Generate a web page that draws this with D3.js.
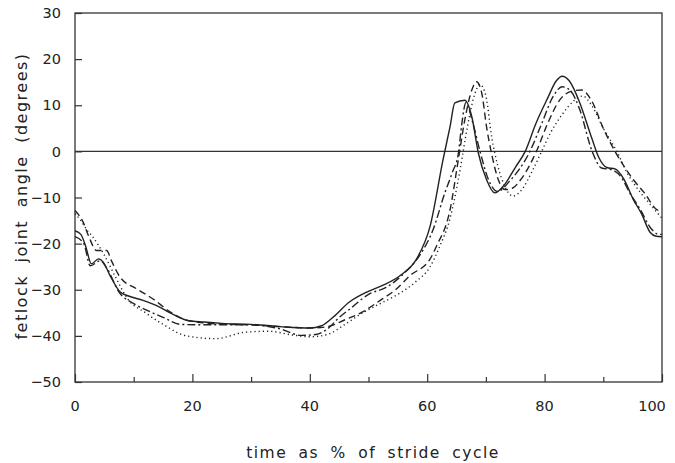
<!DOCTYPE html>
<html>
<head>
<meta charset="utf-8">
<script src="https://cdn.jsdelivr.net/npm/d3@7"></script>
<style>
  html, body { margin: 0; padding: 0; background: #fff; }
  svg text { font-family: "DejaVu Sans", "Liberation Sans", sans-serif; fill: #222; }
</style>
</head>
<body>
<div id="chart"></div>
<script>
// time as % of stride cycle, and fetlock angle (degrees) for each trial
const solidX = [0, 1, 1.8, 2.8, 4, 4.8, 6, 7.7, 9, 11.6, 14, 16.2, 19, 22, 25, 30, 35, 40, 42, 44, 46.8, 49.7, 52.5, 55.4, 58.2, 60.5, 62.7, 63.9, 64.7, 66.4, 67.6, 68.7, 70.1, 71.5, 73, 75, 76.7, 78.5, 80.5, 82, 83, 84.2, 86, 88, 89.3, 90.6, 92, 93.5, 95.1, 96.5, 98, 99, 100];
const solidY = [-17.2, -18, -20.5, -24.4, -23.3, -24, -27, -30.5, -31.3, -32.3, -33.5, -35, -36.6, -37, -37.3, -37.5, -38, -38.3, -37.8, -35.9, -32.6, -30.5, -29, -26.9, -23.3, -16.2, -1.8, 5.4, 10.5, 11.1, 7.5, -0.3, -6.1, -9, -7.5, -3.5, 0, 6, 11.5, 15.3, 16.3, 15.3, 10.5, 3, -1.5, -3.5, -3.8, -6, -10.4, -13.5, -17.6, -18.4, -18.5];

const dashX = [0, 1.4, 2.3, 3.7, 5.4, 6.2, 7.7, 10.5, 13.3, 16.2, 19, 22, 26, 30, 35, 40, 43, 46, 49, 52, 54.8, 57, 60.5, 61.6, 63.9, 65.3, 66.4, 67.6, 68.4, 69.3, 70.1, 71, 72.1, 73.3, 74.5, 76, 78.6, 80.5, 82.5, 84.5, 86.3, 88, 90, 92, 95.1, 97, 99.1, 100];
const dashY = [-12.8, -15.4, -18.3, -21.5, -21.5, -23.7, -27.3, -29.8, -32, -34.8, -36.6, -37.2, -37.5, -37.6, -38, -38.3, -38, -36.5, -34.8, -32.3, -29.8, -27, -23.3, -20.5, -12.6, -1.8, 6.8, 13.3, 15.1, 12.6, 5.4, -0.7, -6.1, -8.3, -8, -6, 0, 6, 11, 13, 13.3, 11, 5, 0, -6.1, -9, -12.6, -13];

const dashDotX = [0, 1.5, 2.6, 4.3, 5.5, 7.5, 10, 12, 15, 18, 21, 25, 30, 35, 38.5, 41, 43, 45, 47, 50, 53, 56, 59, 61, 63, 64.3, 65.3, 65.9, 66.6, 67.8, 69, 70.4, 72, 74, 77.5, 79.5, 81.5, 83, 84.5, 86, 88.1, 89.7, 91.5, 93, 94.5, 96.3, 98, 99.5, 100];
const dashDotY = [-18.5, -20, -24.8, -23.7, -25.5, -30.5, -33, -34.3, -36, -37.5, -37.6, -37.6, -37.6, -38.5, -39.9, -39.7, -38.5, -36, -34, -31, -29.5, -26.5, -22, -17, -9, -4.5, -0.5, 6, 10.6, 6, 0, -6, -8.7, -6.5, 0, 6, 12, 14, 13, 9, 0, -3.6, -4, -5.5, -9, -12.6, -16.5, -18, -18];

const dotX = [0, 1, 2, 3, 5, 7, 9, 12, 15, 19, 24, 29, 33, 37, 40, 43, 46, 49, 52, 55, 58, 60.5, 62, 64, 65.6, 66.8, 68, 69, 70, 71, 72, 73.2, 74.6, 76, 78, 79.5, 81, 83, 85, 86.5, 88, 90, 92.3, 94, 96.3, 98, 100];
const dotY = [-13.5, -15, -17, -18.5, -22.5, -27.5, -32, -35, -37.5, -40, -40.6, -39.2, -39, -39.8, -40.2, -39.7, -37.5, -35, -33, -31, -28.3, -25, -21, -14, -4, 5, 12, 14.5, 12, 3, -3, -7.5, -9.7, -8.5, -4, 0, 4, 8, 11, 12, 10, 5, 0, -4.5, -8.9, -11.5, -14.5];

const xTicks = [0, 10, 20, 30, 40, 50, 60, 70, 80, 90, 100];
const xTickLabels = [0, 20, 40, 60, 80, 100];
const yTicks = [-50, -40, -30, -20, -10, 0, 10, 20, 30];

const series = [
  { x: solidX, y: solidY, dash: null },
  { x: dashX, y: dashY, dash: "7,4" },
  { x: dashDotX, y: dashDotY, dash: "8,3,2,3" },
  { x: dotX, y: dotY, dash: "1.2,3" },
];

const W = 675, H = 463;
const margin = { left: 75, top: 13, right: 13, bottom: 81 };
const width = W - margin.left - margin.right;
const height = H - margin.top - margin.bottom;

const svg = d3.select("#chart").append("svg")
  .attr("width", W)
  .attr("height", H);

const g = svg.append("g")
  .attr("transform", `translate(${margin.left}, ${margin.top})`);

const x = d3.scaleLinear().domain([0, 100]).range([0, width]);
const y = d3.scaleLinear().domain([-50, 30]).range([height, 0]);

// cadre
g.append("rect")
  .attr("x", 0).attr("y", 0)
  .attr("width", width).attr("height", height)
  .attr("fill", "none")
  .attr("stroke", "#333")
  .attr("stroke-width", 1.3);

// ligne zéro
g.append("line")
  .attr("x1", 0).attr("x2", width)
  .attr("y1", y(0)).attr("y2", y(0))
  .attr("stroke", "#333")
  .attr("stroke-width", 1.3);

// axe x : graduations vers l'intérieur
const xAxis = g.append("g")
  .attr("transform", `translate(0, ${height})`)
  .call(d3.axisBottom(x).tickValues(xTicks).tickSize(0).tickFormat(""));
xAxis.select(".domain").remove();
xAxis.selectAll(".tick line")
  .attr("y2", d => d % 20 === 0 ? -8 : -5)
  .attr("stroke", "#333")
  .attr("stroke-width", 1.2);

g.append("g")
  .selectAll("text")
  .data(xTickLabels)
  .join("text")
  .attr("x", d => x(d) - (d === 100 ? 10 : 0))
  .attr("y", height + 29)
  .attr("text-anchor", "middle")
  .attr("font-size", 14.5)
  .text(d => d);

// axe y
const yAxis = g.append("g")
  .call(d3.axisLeft(y).tickValues(yTicks).tickSize(0).tickPadding(14));
yAxis.select(".domain").remove();
yAxis.selectAll(".tick line")
  .attr("x2", 7)
  .attr("stroke", "#333")
  .attr("stroke-width", 1.2);
yAxis.selectAll(".tick text")
  .attr("font-size", 14.5)
  .style("font-family", "DejaVu Sans, sans-serif")
  .attr("fill", "#222");

// courbes
const line = d3.line()
  .x(d => x(d[0]))
  .y(d => y(d[1]))
  .curve(d3.curveMonotoneX);

g.selectAll("path.serie")
  .data(series)
  .join("path")
  .attr("class", "serie")
  .attr("d", s => line(s.x.map((v, i) => [v, s.y[i]])))
  .attr("fill", "none")
  .attr("stroke", "#222")
  .attr("stroke-width", 1.4)
  .attr("stroke-dasharray", s => s.dash);

// titres d'axes
svg.append("text")
  .attr("x", 373)
  .attr("y", 458)
  .attr("text-anchor", "middle")
  .attr("font-size", 15.5)
  .style("letter-spacing", "1.5px")
  .style("word-spacing", "5px")
  .text("time as % of stride cycle");

svg.append("text")
  .attr("transform", "translate(27, 196) rotate(-90)")
  .attr("text-anchor", "middle")
  .attr("font-size", 16)
  .style("letter-spacing", "1.5px")
  .style("word-spacing", "6px")
  .text("fetlock joint angle (degrees)");
</script>
</body>
</html>
